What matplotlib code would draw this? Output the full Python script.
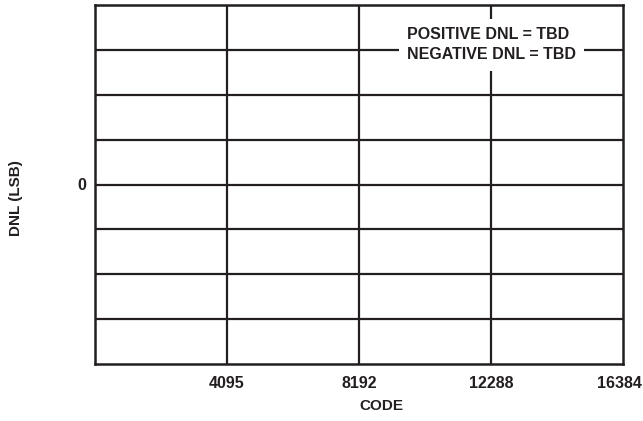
import matplotlib
matplotlib.use("Agg")
import matplotlib.pyplot as plt
from matplotlib.transforms import ScaledTranslation

# Data / labels
x_ticks = [4095, 8192, 12288, 16384]
x_tick_labels = ["4095", "8192", "12288", "16384"]
x_limits = [0, 16384]
x_grid = [4096, 8192, 12288]
y_limits = [-4, 4]
y_grid = [-3, -2, -1, 0, 1, 2, 3]
y_ticks = [0]
y_tick_labels = ["0"]
annotation = "POSITIVE DNL = TBD\nNEGATIVE DNL = TBD"

plt.rcParams['font.family'] = ['Liberation Sans', 'DejaVu Sans']
ink = "#231f20"

fig = plt.figure(figsize=(6.43, 4.21), dpi=100)
ax = fig.add_axes([95/643, 1 - 364/421, (623-95)/643, (364-5)/421])
ax.set_xlim(*x_limits)
ax.set_ylim(*y_limits)

for xv in x_grid:
    ax.axvline(xv, color=ink, lw=1.6, zorder=1)
for yv in y_grid:
    ax.axhline(yv, color=ink, lw=1.6, zorder=1)

for s in ax.spines.values():
    s.set_color(ink)
    s.set_linewidth(1.8)

ax.set_xticks(x_ticks)
ax.set_xticklabels(x_tick_labels, fontsize=11.5, fontweight='bold', color=ink)
ax.set_yticks(y_ticks)
ax.set_yticklabels(y_tick_labels, fontsize=11.5, fontweight='bold', color=ink)
ax.tick_params(axis='x', length=0, pad=9)
ax.tick_params(axis='y', length=0, pad=6)

# last tick label sits flush with the right edge of the figure
last = ax.get_xticklabels()[-1]
last.set_ha('right')
last.set_transform(last.get_transform() + ScaledTranslation(0.185, 0, fig.dpi_scale_trans))

ax.set_xlabel("CODE", fontsize=11, fontweight='bold', color=ink)
ax.xaxis.set_label_coords((381-95)/528, -(406-364)/359, transform=ax.transAxes)
ax.set_ylabel("DNL (LSB)", fontsize=11, fontweight='bold', color=ink)
ax.yaxis.set_label_coords(-(95-16)/528, (364-198)/359, transform=ax.transAxes)
ax.xaxis.label.set_va('center')
ax.yaxis.label.set_va('center')

ax.text((407-95)/528, (364-27)/359, annotation, transform=ax.transAxes, fontsize=11.5,
        fontweight='bold', color=ink, ha='left', va='top', linespacing=1.45,
        bbox=dict(facecolor='white', edgecolor='none', pad=6), zorder=3)

fig.savefig("out.png", dpi=100)
